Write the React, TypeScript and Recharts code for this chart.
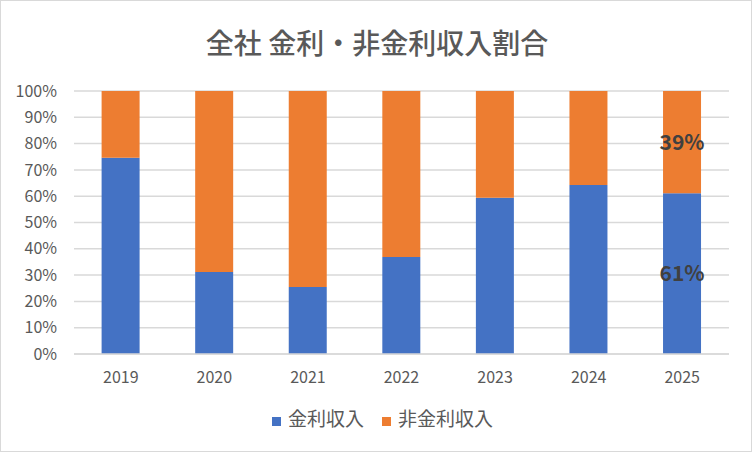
import { BarChart, Bar, XAxis, YAxis, CartesianGrid, Legend, LabelList } from 'recharts';

const years = ['2019', '2020', '2021', '2022', '2023', '2024', '2025'];
// 金利収入 / 非金利収入 (%)
const interest = [74.6, 31.2, 25.5, 36.9, 59.4, 64.3, 61.1];
const nonInterest = [25.4, 68.8, 74.5, 63.1, 40.6, 35.7, 38.9];
// ラベルは2025年のみ表示
const showLabel = [false, false, false, false, false, false, true];
const yTicks = [0, 10, 20, 30, 40, 50, 60, 70, 80, 90, 100];

const data = years.map((year, i) => ({
  year,
  interest: interest[i],
  nonInterest: nonInterest[i],
  interestLabel: showLabel[i] ? `${Math.round(interest[i])}%` : '',
  nonInterestLabel: showLabel[i] ? `${Math.round(nonInterest[i])}%` : '',
}));

const FONT = '"Noto Sans CJK JP", "Noto Sans", sans-serif';

export default function App() {
  return (
    <div
      style={{
        position: 'absolute',
        left: 0,
        top: 0,
        width: 752,
        height: 452,
        boxSizing: 'border-box',
        border: '1px solid #D9D9D9',
        background: '#fff',
        fontFamily: FONT,
      }}
    >
      <div
        style={{
          position: 'absolute',
          left: 0,
          top: 21,
          width: 752,
          textAlign: 'center',
          fontSize: 28,
          fontWeight: 500,
          color: '#595959',
          lineHeight: '40px',
        }}
      >
        全社 金利・非金利収入割合
      </div>
      <BarChart
        width={750}
        height={450}
        data={data}
        margin={{ top: 90, right: 22, left: 13, bottom: 40 }}
        barCategoryGap="29.5%"
        style={{ position: 'absolute', left: 0, top: 0 }}
      >
        <CartesianGrid vertical={false} stroke="#D9D9D9" strokeWidth={1.5} />
        <XAxis
          dataKey="year"
          axisLine={{ stroke: '#D9D9D9', strokeWidth: 1.5 }}
          tickLine={false}
          tickMargin={12}
          height={30}
          tick={{ fill: '#595959', fontSize: 16, fontFamily: FONT }}
        />
        <YAxis
          domain={[0, 100]}
          ticks={yTicks}
          interval={0}
          tickFormatter={(v: number) => `${v}%`}
          axisLine={false}
          tickLine={false}
          tickMargin={11}
          width={60}
          tick={{ fill: '#595959', fontSize: 16, fontFamily: FONT }}
        />
        <Legend
          verticalAlign="bottom"
          align="center"
          iconType="square"
          iconSize={9}
          wrapperStyle={{ top: 403, left: 33, fontFamily: FONT }}
          formatter={(value) => (
            <span style={{ color: '#595959', fontSize: 19, marginLeft: 3, marginRight: 8 }}>{value}</span>
          )}
        />
        <Bar dataKey="interest" name="金利収入" stackId="a" fill="#4472C4" isAnimationActive={false}>
          <LabelList
            dataKey="interestLabel"
            position="center"
            fill="#404040"
            fontSize={21}
            fontWeight="bold"
            fontFamily={FONT}
          />
        </Bar>
        <Bar dataKey="nonInterest" name="非金利収入" stackId="a" fill="#ED7D31" isAnimationActive={false}>
          <LabelList
            dataKey="nonInterestLabel"
            position="center"
            fill="#404040"
            fontSize={21}
            fontWeight="bold"
            fontFamily={FONT}
          />
        </Bar>
      </BarChart>
    </div>
  );
}
